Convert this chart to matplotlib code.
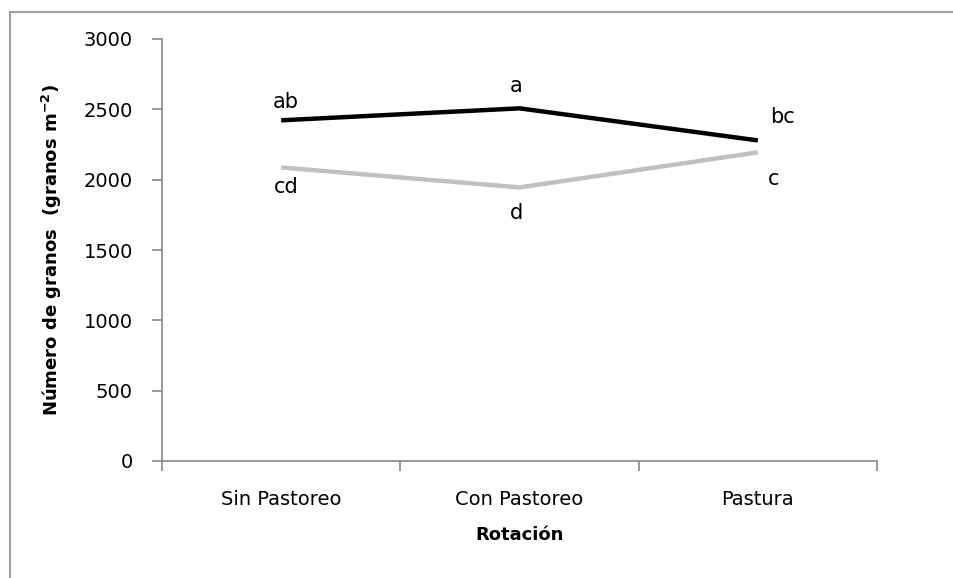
import matplotlib.pyplot as plt
from matplotlib.patches import Rectangle

plt.rcParams['font.family'] = ['DejaVu Sans']

categorias = ["Sin Pastoreo", "Con Pastoreo", "Pastura"]
serie_negra = [2422, 2507, 2279]
serie_gris = [2087, 1945, 2194]
letras_negra = ["ab", "a", "bc"]
letras_gris = ["cd", "d", "c"]
y_ticks = [0, 500, 1000, 1500, 2000, 2500, 3000]

fig = plt.figure(figsize=(9.54, 5.78), dpi=100)
ax = fig.add_axes([162 / 954, 1 - 461 / 578, (877 - 162) / 954, (461 - 39) / 578])

# marco gris de la figura (solo se ve arriba e izquierda)
fig.patches.append(Rectangle((10 / 954, -0.1), 1.2, 1 - 12 / 578 + 0.1,
                             transform=fig.transFigure, fill=False,
                             edgecolor="#a0a0a0", linewidth=1.5))

x = range(len(categorias))
ax.plot(x, serie_negra, color="black", linewidth=3.2, solid_capstyle="butt")
ax.plot(x, serie_gris, color="#c0c0c0", linewidth=3.2, solid_capstyle="butt")

off_negra = [(5, 18), (-3, 22), (25, 23)]
off_gris = [(5, -20), (-3, -26), (16, -27)]
for i in x:
    ax.annotate(letras_negra[i], (i, serie_negra[i]), xytext=off_negra[i],
                textcoords="offset pixels", ha="center", va="center", fontsize=15)
    ax.annotate(letras_gris[i], (i, serie_gris[i]), xytext=off_gris[i],
                textcoords="offset pixels", ha="center", va="center", fontsize=15)

ax.set_xlim(-0.5, 2.5)
ax.set_ylim(0, 3000)
ax.set_yticks(y_ticks)
ax.set_xticks(list(x))
ax.set_xticklabels(categorias)
ax.set_xticks([-0.5, 0.5, 1.5, 2.5], minor=True)
ax.tick_params(axis="x", which="major", length=0, pad=21, labelsize=14)
ax.tick_params(axis="x", which="minor", length=7, color="#888888", width=1.2)
ax.tick_params(axis="y", length=7, color="#888888", width=1.2, pad=14, labelsize=14)

for s in ["top", "right"]:
    ax.spines[s].set_visible(False)
for s in ["left", "bottom"]:
    ax.spines[s].set_color("#888888")
    ax.spines[s].set_linewidth(1.2)

ax.set_xlabel("Rotación", fontsize=13, fontweight="bold", labelpad=12)
ax.set_ylabel("Número de granos  (granos m$^{\\mathregular{-2}}$)", fontsize=13,
              fontweight="bold", labelpad=14)

fig.savefig("out.png", dpi=100)
